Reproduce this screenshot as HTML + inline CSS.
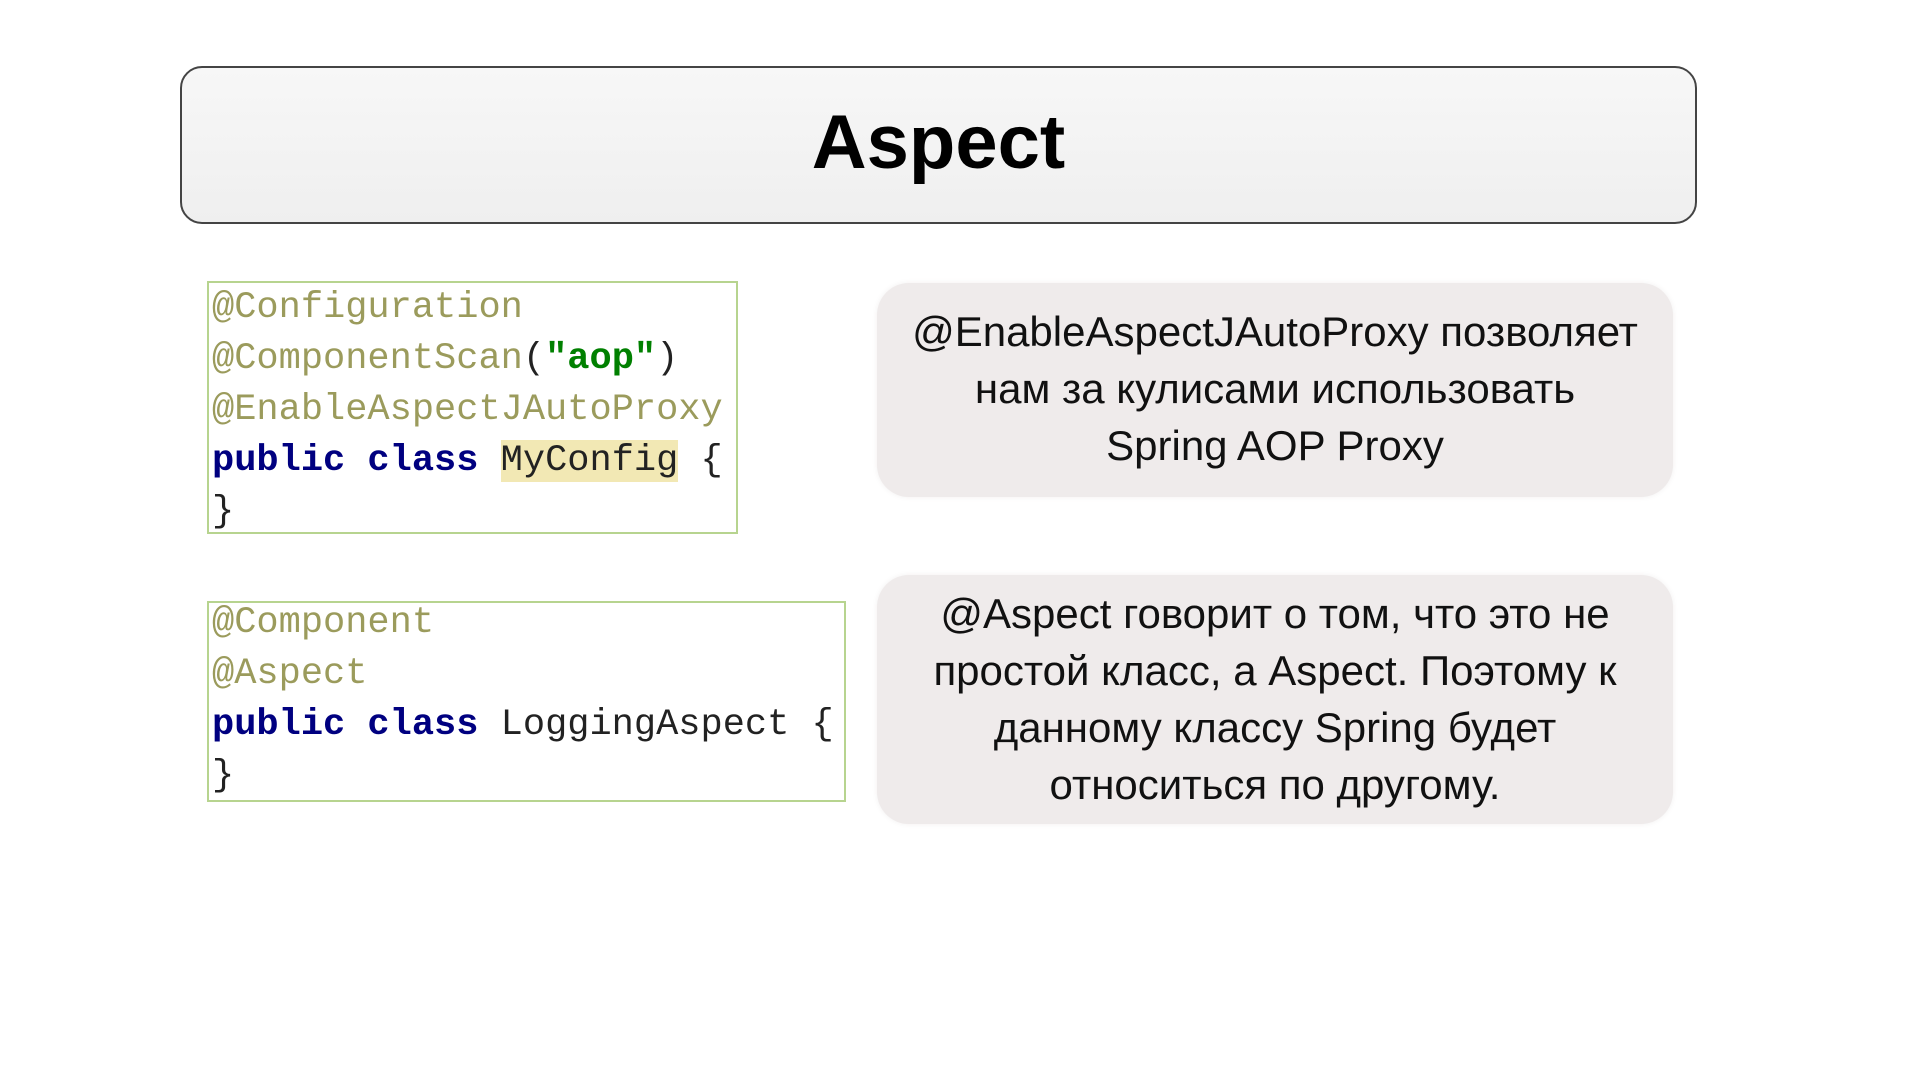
<!DOCTYPE html>
<html><head><meta charset="utf-8"><style>
body{margin:0;width:1920px;height:1080px;background:#fff;position:relative;overflow:hidden;font-family:"Liberation Sans",sans-serif}
.title{position:absolute;left:180px;top:66px;width:1517px;height:158px;border:2px solid #444;border-radius:22px;background:linear-gradient(#f7f7f7,#efefef);box-sizing:border-box;text-align:center;line-height:150px;font-weight:bold;font-size:76px;color:#000}
.code{position:absolute;border:2px solid #b7d48f;box-sizing:border-box;font-family:"Liberation Mono",monospace;font-size:37px;line-height:51px;padding:0 0 0 3px;white-space:pre;color:#222}
.an{color:#9b9b5c}
.kw{color:#000080;font-weight:bold}
.str{color:#008000;font-weight:bold}
.hl{background:#f2e8b4}
.note{position:absolute;left:877px;width:796px;background:#efebeb;border-radius:32px;text-align:center;font-size:42px;color:#111;box-shadow:0 0 6px #f2f0f0}
</style></head><body>
<div class="title">Aspect</div>
<div class="code" style="left:207px;top:281px;width:531px;height:253px"><span class="an">@Configuration</span>
<span class="an">@ComponentScan</span>(<span class="str">"aop"</span>)
<span class="an">@EnableAspectJAutoProxy</span>
<span class="kw">public class</span> <span class="hl">MyConfig</span> {
}</div>
<div class="code" style="left:207px;top:601px;width:639px;height:201px;padding-top:0"><div style="margin-top:-5px"><span class="an">@Component</span>
<span class="an">@Aspect</span>
<span class="kw">public class</span> LoggingAspect {
}</div></div>
<div class="note" style="top:283px;height:214px;line-height:57px;padding-top:20px;box-sizing:border-box">@EnableAspectJAutoProxy позволяет<br>нам за кулисами использовать<br>Spring AOP Proxy</div>
<div class="note" style="top:575px;height:249px;line-height:57px;padding-top:10px;box-sizing:border-box">@Aspect говорит о том, что это не<br>простой класс, а Aspect. Поэтому к<br>данному классу Spring будет<br>относиться по другому.</div>
</body></html>
